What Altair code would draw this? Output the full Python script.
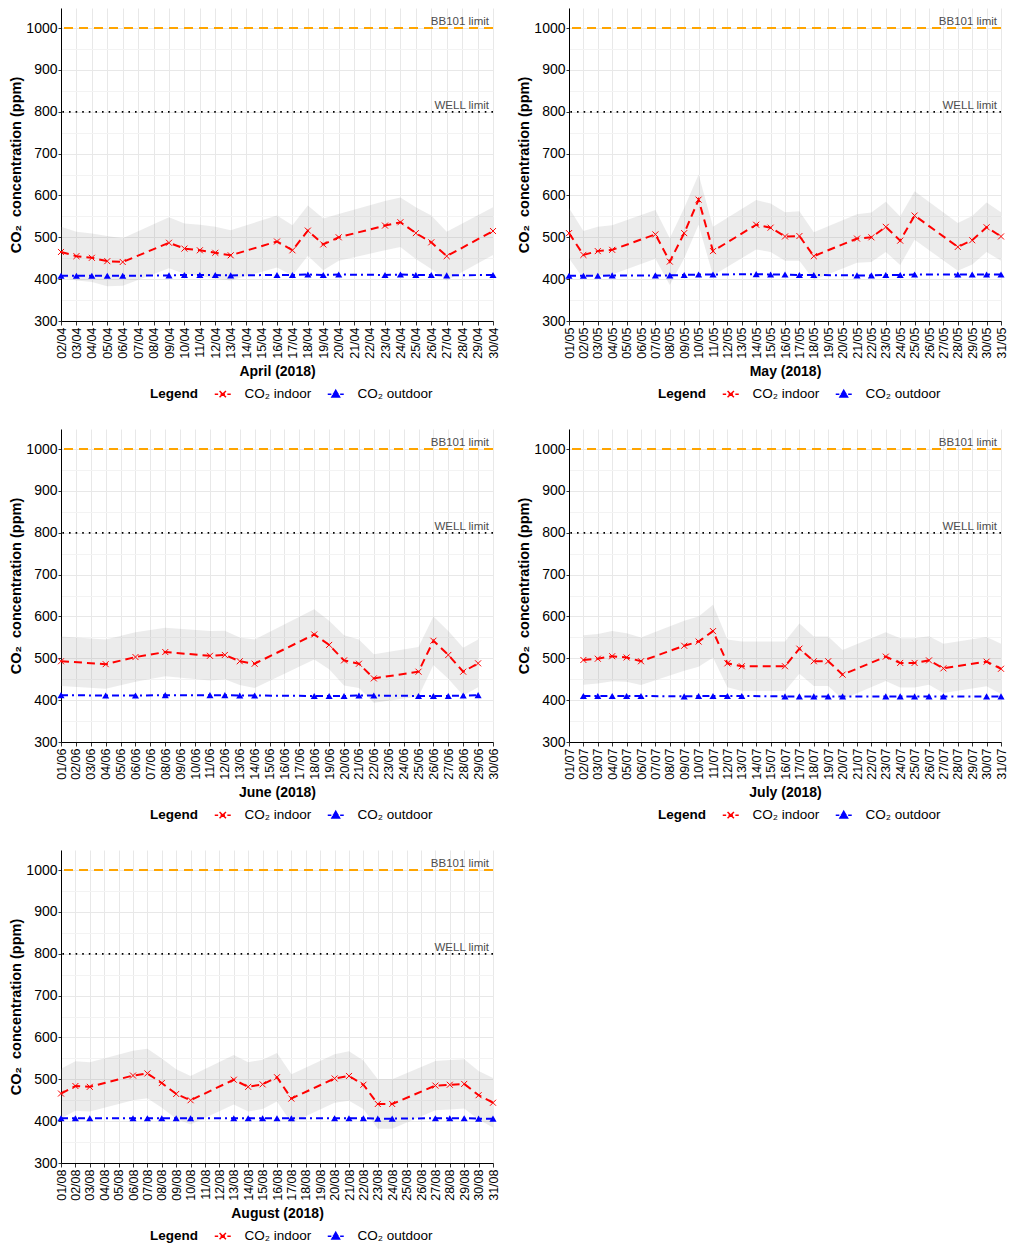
import altair as alt
import pandas as pd

IN_NAME = "CO₂ indoor"
OUT_NAME = "CO₂ outdoor"
Y_TITLE = "CO₂\u00a0 concentration (ppm)"

MONTH_NAMES = ["April", "May", "June", "July", "August"]
MONTH_NUMBERS = [4, 5, 6, 7, 8]
AXIS_START_DAY = [2, 1, 1, 1, 1]
AXIS_END_DAY = [30, 31, 30, 31, 31]

APR_DAYS = [2, 3, 4, 5, 6, 9, 10, 11, 12, 13, 16, 17, 18, 19, 20, 23, 24, 25, 26, 27, 30]
APR_INDOOR = [465, 455, 451, 443, 441, 487, 473, 469, 463, 457, 490, 469, 516, 483, 500, 528, 536, 510, 488, 455, 515]
APR_SD = [60, 58, 58, 60, 57, 61, 60, 61, 62, 60, 62, 60, 60, 62, 56, 59, 59, 62, 64, 58, 57]
APR_OUTDOOR = [408, 408, 408, 408, 408, 409, 410, 410, 410, 409, 410, 410, 411, 410, 411, 410, 411, 410, 410, 409, 410]

MAY_DAYS = [1, 2, 3, 4, 7, 8, 9, 10, 11, 14, 15, 16, 17, 18, 21, 22, 23, 24, 25, 28, 29, 30, 31]
MAY_INDOOR = [510, 458, 467, 470, 507, 442, 510, 590, 467, 530, 523, 502, 503, 455, 497, 500, 525, 492, 552, 477, 493, 524, 502]
MAY_SD = [60, 57, 58, 59, 58, 56, 60, 60, 58, 59, 58, 58, 59, 57, 58, 59, 60, 58, 58, 57, 58, 59, 58]
MAY_OUTDOOR = [408, 408, 408, 409, 409, 409, 410, 411, 411, 412, 411, 411, 410, 410, 409, 409, 410, 410, 411, 411, 411, 411, 411]

JUN_DAYS = [1, 4, 6, 8, 11, 12, 13, 14, 18, 19, 20, 21, 22, 25, 26, 27, 28, 29]
JUN_INDOOR = [493, 486, 503, 515, 506, 508, 493, 487, 557, 532, 495, 487, 452, 468, 542, 508, 468, 488]
JUN_SD = [59, 59, 59, 58, 59, 58, 57, 58, 60, 58, 60, 58, 58, 59, 58, 57, 57, 57]
JUN_OUTDOOR = [412, 411, 411, 412, 412, 412, 411, 411, 410, 410, 410, 411, 411, 410, 410, 410, 411, 412]

JUL_DAYS = [2, 3, 4, 5, 6, 9, 10, 11, 12, 13, 16, 17, 18, 19, 20, 23, 24, 25, 26, 27, 30, 31]
JUL_INDOOR = [496, 499, 505, 502, 493, 530, 540, 565, 488, 481, 481, 523, 493, 493, 461, 504, 489, 489, 495, 476, 492, 475]
JUL_SD = [59, 59, 60, 58, 57, 60, 60, 63, 57, 59, 59, 60, 59, 59, 59, 58, 59, 59, 58, 59, 59, 60]
JUL_OUTDOOR = [410, 410, 410, 410, 410, 409, 410, 410, 410, 410, 409, 409, 409, 409, 409, 409, 409, 409, 409, 409, 409, 409]

AUG_DAYS = [1, 2, 3, 6, 7, 8, 9, 10, 13, 14, 15, 16, 17, 20, 21, 22, 23, 24, 27, 28, 29, 30, 31]
AUG_INDOOR = [466, 484, 482, 509, 514, 491, 465, 450, 499, 482, 488, 505, 454, 502, 508, 487, 441, 441, 485, 487, 489, 462, 444]
AUG_SD = [59, 59, 59, 59, 59, 59, 59, 58, 59, 59, 59, 58, 58, 58, 59, 58, 59, 59, 59, 59, 59, 58, 59]
AUG_OUTDOOR = [407, 407, 407, 407, 407, 407, 407, 407, 407, 407, 407, 407, 407, 407, 407, 407, 406, 406, 407, 407, 407, 406, 406]

LIMIT_VALUES = [1000, 800]
LIMIT_LABELS = ["BB101 limit", "WELL limit"]
Y_TICKS = [300, 350, 400, 450, 500, 550, 600, 650, 700, 750, 800, 850, 900, 950, 1000]

MONTH_DATA = [
    (APR_DAYS, APR_INDOOR, APR_SD, APR_OUTDOOR),
    (MAY_DAYS, MAY_INDOOR, MAY_SD, MAY_OUTDOOR),
    (JUN_DAYS, JUN_INDOOR, JUN_SD, JUN_OUTDOOR),
    (JUL_DAYS, JUL_INDOOR, JUL_SD, JUL_OUTDOOR),
    (AUG_DAYS, AUG_INDOOR, AUG_SD, AUG_OUTDOOR),
]

RED = "#FF0000"
BLUE = "#0000FF"
ORANGE = "#FFA500"
FONT = "Liberation Sans"

W = 432
H = 313

X_MARK = "M-1,-1L1,1M-1,1L1,-1"
IN_KEY = "M-2,0H-1.15M-0.55,0H0.55M1.15,0H2M-0.8,-0.8L0.8,0.8M-0.8,0.8L0.8,-0.8"
OUT_KEY = "M-2,0H-1.1M-0.75,0H-0.5M0.5,0H0.75M1.1,0H2M0,-0.95L0.95,0.7L-0.95,0.7Z"


def make_panel(i):
    name = MONTH_NAMES[i]
    m = MONTH_NUMBERS[i]
    days, indoor, sd, outdoor = MONTH_DATA[i]
    df = pd.DataFrame({
        "date": pd.to_datetime([f"2018-{m:02d}-{d:02d}" for d in days]),
        "indoor": indoor,
        "sd": sd,
        "outdoor": outdoor,
    })
    limits = pd.DataFrame({"y": LIMIT_VALUES, "label": LIMIT_LABELS})
    series = pd.DataFrame({"series": [IN_NAME, OUT_NAME]})

    xscale = alt.Scale(
        domain=[alt.DateTime(year=2018, month=m, date=AXIS_START_DAY[i]),
                alt.DateTime(year=2018, month=m, date=AXIS_END_DAY[i])],
        nice=False, padding=0)
    xaxis = alt.Axis(
        format="%d/%m", tickCount={"interval": "day", "step": 1},
        labelAngle=270, labelFontSize=12.5, labelColor="black",
        labelOverlap=False, labelFlush=False, labelBound=False, labelPadding=2,
        tickSize=4, tickColor="#333333", domainColor="black", domainWidth=1,
        gridColor="#e8e8e8", gridWidth=1,
        titleFontSize=14, titleFontWeight="bold", titleColor="black", titlePadding=6)
    yscale = alt.Scale(domain=[300, 1048], nice=False, zero=False)
    yaxis = alt.Axis(
        values=Y_TICKS, format="d",
        labelExpr="datum.value % 100 === 0 ? datum.label : ''",
        labelFontSize=14, labelColor="black", labelPadding=1,
        tickSize=3, tickColor="#333333",
        tickOpacity={"condition": {"test": "datum.value % 100 !== 0", "value": 0}, "value": 1},
        gridColor={"condition": {"test": "datum.value % 100 !== 0", "value": "#f3f3f3"}, "value": "#e8e8e8"},
        domainColor="black", domainWidth=1,
        titleFontSize=14.5, titleFontWeight="bold", titleColor="black", titlePadding=2)

    X = alt.X("date:T", scale=xscale, axis=xaxis, title=f"{name} (2018)")

    def Y(field):
        return alt.Y(f"{field}:Q", scale=yscale, axis=yaxis, title=Y_TITLE)

    base = alt.Chart(df)

    ribbon = base.transform_calculate(
        lower="datum.indoor - datum.sd", upper="datum.indoor + datum.sd"
    ).mark_area(color="#8a8a8a", opacity=0.16).encode(
        x=X, y=Y("lower"), y2="upper:Q")

    bb_rule = alt.Chart(limits).transform_filter("datum.y == 1000").mark_rule(
        color=ORANGE, strokeDash=[9, 6], strokeWidth=2).encode(y=Y("y"))
    well_rule = alt.Chart(limits).transform_filter("datum.y == 800").mark_rule(
        color="black", strokeDash=[1.6, 5], strokeWidth=1.8).encode(y=Y("y"))
    limit_text = alt.Chart(limits).mark_text(
        align="right", baseline="bottom", dx=-4, dy=-1, fontSize=11.5,
        color="#4d4d4d", font=FONT).encode(
        x=alt.value(W), y=Y("y"), text="label:N")

    in_line = base.mark_line(color=RED, strokeDash=[8, 5], strokeWidth=2).encode(
        x=X, y=Y("indoor"))
    in_pts = base.mark_point(shape=X_MARK, filled=False, color=RED, size=36,
                             strokeWidth=1, opacity=1).encode(x=X, y=Y("indoor"))
    out_line = base.mark_line(color=BLUE, strokeDash=[7, 4, 2, 4], strokeWidth=2).encode(
        x=X, y=Y("outdoor"))
    out_pts = base.mark_point(shape="triangle-up", filled=True, color=BLUE, size=50,
                              opacity=1).encode(x=X, y=Y("outdoor"))

    dom = [IN_NAME, OUT_NAME]
    legend = alt.Legend(
        title="Legend", orient="none", legendX=89, legendY=H + 66,
        direction="horizontal", titleOrient="left",
        titleFontWeight="bold", titleFontSize=13.5, titleColor="black", titleFont=FONT,
        labelFontSize=13.5, labelColor="black", labelFont=FONT,
        symbolSize=64, symbolStrokeWidth=1.5, labelOffset=15, columnPadding=12,
        titlePadding=17)
    carrier = alt.Chart(series).transform_filter("false").mark_point(
        filled=True, opacity=1).encode(
        fill=alt.Fill("series:N", scale=alt.Scale(domain=dom, range=[RED, BLUE]), legend=legend),
        stroke=alt.Stroke("series:N", scale=alt.Scale(domain=dom, range=[RED, BLUE]), legend=legend),
        shape=alt.Shape("series:N", scale=alt.Scale(domain=dom, range=[IN_KEY, OUT_KEY]), legend=legend),
    )

    return alt.layer(ribbon, bb_rule, well_rule, limit_text, in_line, out_line,
                     in_pts, out_pts, carrier).properties(width=W, height=H)


panels = [make_panel(i) for i in range(5)]

chart = alt.concat(*panels, columns=2, spacing={"row": 28, "column": 16}).resolve_scale(
    x="independent", y="independent", fill="independent", stroke="independent",
    shape="independent"
).properties(
    padding={"left": 0, "top": 0, "right": 0, "bottom": 0}
).configure(font=FONT).configure_view(strokeWidth=0)

chart.save("out.html", embed_options={"renderer": "svg", "actions": False})
